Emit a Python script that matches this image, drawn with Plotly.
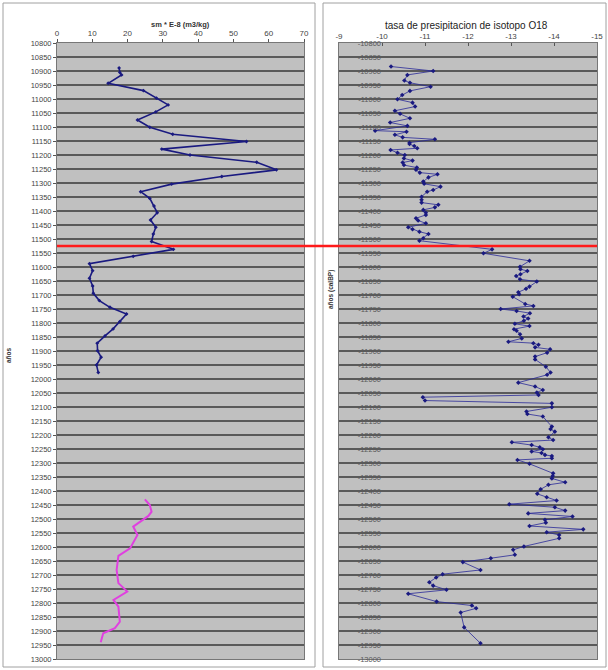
import plotly.graph_objects as go

# ---- data ----
sm_depth = [10889, 10905, 10914, 10944, 10970, 10997, 11021, 11046, 11075, 11101, 11126, 11152,
            11179, 11200, 11226, 11253, 11277, 11304, 11331, 11355, 11382, 11406, 11432, 11458,
            11482, 11509, 11537, 11562, 11588, 11613, 11640, 11668, 11694, 11720, 11744, 11768,
            11795, 11821, 11846, 11872, 11899, 11922, 11950, 11977]
sm_value = [17.6, 17.8, 18.3, 14.5, 24.5, 28.2, 31.5, 28.0, 22.8, 26.3, 32.8, 53.7,
            29.7, 37.7, 56.6, 62.2, 46.7, 32.5, 23.7, 26.3, 27.5, 28.4, 26.5, 28.0,
            27.3, 26.8, 33.0, 21.6, 9.2, 10.1, 9.2, 10.1, 10.3, 12.0, 15.0, 19.7,
            17.8, 15.9, 13.6, 11.4, 11.5, 12.5, 11.2, 11.7]

sm2_depth = [12430, 12450, 12474, 12489, 12527, 12557, 12605, 12632, 12682, 12729, 12759,
             12789, 12813, 12867, 12890, 12908, 12940]
sm2_value = [24.9, 26.3, 26.8, 25.9, 21.6, 22.8, 20.7, 17.4, 16.9, 17.4, 19.9,
             16.0, 17.4, 17.8, 16.4, 13.1, 12.4]

o18_depth = [10884, 10900, 10914, 10934, 10942, 10956, 10971, 10986, 11001, 11013, 11027, 11042,
             11053, 11069, 11084, 11096, 11113, 11117, 11128, 11137, 11144, 11156, 11161, 11168,
             11176, 11182, 11192, 11200, 11212, 11220, 11227, 11236, 11245, 11253, 11263, 11269,
             11280, 11295, 11303, 11313, 11325, 11331, 11349, 11360, 11370, 11378, 11387, 11396,
             11406, 11414, 11426, 11434, 11444, 11458, 11465, 11474, 11482, 11497, 11506,
             11537, 11551, 11578, 11599, 11608, 11614, 11626, 11632, 11644, 11652, 11670, 11678,
             11690, 11697, 11706, 11732, 11739, 11750, 11757, 11765, 11777, 11784, 11792, 11803,
             11811, 11822, 11828, 11840, 11855, 11867, 11872, 11878, 11887, 11894, 11906, 11920,
             11930, 11956, 11977, 11985, 12013, 12027, 12039, 12048, 12057, 12065, 12077, 12087,
             12101, 12116, 12125, 12134, 12170, 12179, 12188, 12208, 12218, 12226, 12236, 12244,
             12251, 12259, 12264, 12271, 12275, 12283, 12289, 12303, 12337, 12346, 12355, 12369,
             12378, 12394, 12410, 12422, 12434, 12447, 12458, 12470, 12480, 12491, 12503, 12513,
             12525, 12537, 12547, 12557, 12569, 12598, 12610, 12628, 12640, 12654, 12682, 12697,
             12709, 12726, 12738, 12753, 12767, 12795, 12809, 12819, 12834, 12887, 12944]
o18_value = [-10.21, -11.19, -10.59, -10.52, -10.65, -11.13, -10.65, -10.47, -10.36, -10.71, -10.77, -10.30,
             -10.42, -10.65, -10.19, -10.59, -9.84, -10.57, -10.30, -10.48, -11.23, -10.64, -10.64, -10.75,
             -10.82, -10.20, -10.36, -10.53, -10.51, -10.71, -10.48, -10.51, -10.81, -10.79, -10.88, -11.29,
             -11.08, -10.96, -10.98, -11.36, -11.19, -11.05, -10.92, -10.92, -10.92, -11.31, -11.23, -10.96,
             -11.02, -11.02, -10.79, -10.84, -11.02, -10.61, -10.71, -10.87, -11.08, -10.96, -10.87,
             -12.56, -12.36, -13.43, -13.21, -13.22, -13.38, -13.22, -13.12, -13.21, -13.60, -13.43, -13.35,
             -13.17, -13.19, -13.04, -13.33, -13.52, -12.76, -13.13, -13.44, -13.29, -13.40, -13.30, -13.09,
             -13.43, -13.07, -13.13, -13.21, -13.25, -12.94, -13.52, -13.64, -13.56, -13.91, -13.84, -13.56,
             -13.56, -13.81, -13.92, -13.84, -13.17, -13.56, -13.74, -13.60, -13.64, -10.95, -11.00, -13.95,
             -13.95, -13.36, -13.38, -13.74, -13.95, -13.92, -14.02, -13.87, -13.98, -13.02, -13.48, -13.67,
             -13.74, -13.48, -13.71, -13.79, -13.95, -13.95, -13.15, -13.43, -13.98, -13.97, -13.95, -14.26,
             -13.87, -13.69, -13.61, -13.83, -14.06, -12.96, -14.02, -14.26, -13.40, -14.43, -13.79, -13.81,
             -13.43, -14.68, -13.83, -14.12, -14.12, -13.30, -13.05, -13.09, -12.53, -11.88, -12.29, -11.41,
             -11.26, -11.10, -11.19, -11.50, -10.61, -11.27, -12.09, -12.19, -11.83, -11.91, -12.29]

boundary_depth = 11525

depth_ticks = list(range(10800, 13001, 50))
left_tick_text = [str(d) for d in depth_ticks]
right_tick_text = ["-" + str(d) for d in depth_ticks]
sm_ticks = [0, 10, 20, 30, 40, 50, 60, 70]
o18_ticks = [-9, -10, -11, -12, -13, -14, -15]
o18_tick_text = [str(v) for v in o18_ticks]

W, H = 608, 670
FONT = "Arial, Liberation Sans, sans-serif"
NAVY = "#1a1a80"


def px(x):
    return x / W


def py(y):
    return 1 - y / H


fig = go.Figure()

fig.add_trace(go.Scatter(x=sm_value, y=sm_depth, mode="lines+markers",
                         line=dict(color=NAVY, width=1.6),
                         marker=dict(color=NAVY, size=3, symbol="diamond"),
                         xaxis="x", yaxis="y", showlegend=False))
fig.add_trace(go.Scatter(x=sm2_value, y=sm2_depth, mode="lines",
                         line=dict(color="#e040e0", width=2),
                         xaxis="x", yaxis="y", showlegend=False))
fig.add_trace(go.Scatter(x=o18_value, y=[-d for d in o18_depth], mode="lines+markers",
                         line=dict(color="#2a2a98", width=0.8),
                         marker=dict(color=NAVY, size=3.5, symbol="diamond"),
                         xaxis="x2", yaxis="y2", showlegend=False))
# empty trace so the label-only axis (y3) gets drawn
fig.add_trace(go.Scatter(x=[None], y=[None], mode="markers", xaxis="x2", yaxis="y3",
                         showlegend=False, hoverinfo="skip"))

x1d = [px(57), px(304)]
x2d = [px(339), px(597)]
yd = [py(659), py(43)]

grid = dict(showgrid=True, gridcolor="#5a5a5a", gridwidth=1.5)

fig.update_layout(
    width=W, height=H,
    margin=dict(l=0, r=0, t=0, b=0, autoexpand=False),
    paper_bgcolor="white",
    plot_bgcolor="#c0c0c0",
    font=dict(family=FONT, size=8, color="#333"),
    xaxis=dict(domain=x1d, range=[0, 70], side="top", tickvals=sm_ticks, automargin=False,
               showgrid=False, zeroline=False, ticks="outside", ticklen=3,
               tickcolor="#555", showline=True, linecolor="#777", mirror=True,
               tickfont=dict(size=8, color="#444"), anchor="y"),
    yaxis=dict(domain=yd, range=[13000, 10800], tickvals=depth_ticks, ticktext=left_tick_text,
               automargin=False,
               zeroline=False, ticks="outside", ticklen=3, tickcolor="#555",
               showline=True, linecolor="#777", mirror=True,
               tickfont=dict(size=7.5, color="#444"), anchor="x", **grid),
    xaxis2=dict(domain=x2d, range=[-9, -15], side="top", tickvals=o18_ticks, ticktext=o18_tick_text,
                automargin=False,
                showgrid=False, zeroline=False, ticks="inside", ticklen=3,
                tickcolor="#555", showline=True, linecolor="#777", mirror=True,
                tickfont=dict(size=8, color="#444"), anchor="y2"),
    yaxis2=dict(domain=yd, range=[-13000, -10800], tickvals=[-d for d in depth_ticks],
                showticklabels=False, automargin=False,
                zeroline=False, ticks="", showline=True, linecolor="#777", mirror=True,
                anchor="x2", **grid),
    yaxis3=dict(overlaying="y2", anchor="free", position=px(381), side="left",
                range=[-13000, -10800], tickvals=[-d for d in depth_ticks], ticktext=right_tick_text,
                showgrid=False, zeroline=False, showline=False, ticks="", automargin=False,
                tickfont=dict(size=7.5, color="#5a5a5a")),
)

# chart frames
fig.add_shape(type="rect", xref="paper", yref="paper", x0=px(3), x1=px(315), y0=py(667), y1=py(3),
              line=dict(color="#a0a0a0", width=1), layer="below")
fig.add_shape(type="rect", xref="paper", yref="paper", x0=px(323), x1=px(606), y0=py(667), y1=py(3),
              line=dict(color="#a0a0a0", width=1), layer="below")

# boundary line
fig.add_shape(type="line", xref="paper", yref="y", x0=px(57), x1=px(597),
              y0=boundary_depth, y1=boundary_depth, line=dict(color="#ff1a1a", width=2.5))

fig.add_annotation(text="<b>sm * E-8 (m3/kg)</b>", xref="paper", yref="paper", xanchor="center",
                   x=px(180), y=py(18), showarrow=False, font=dict(size=7.5, color="#333"))
fig.add_annotation(text="tasa de presipitacion de isotopo O18", xref="paper", yref="paper",
                   xanchor="center", x=px(466), y=py(18), showarrow=False,
                   font=dict(size=10, color="#222"))
fig.add_annotation(text="<b>años</b>", xref="paper", yref="paper", x=px(8), y=py(355),
                   xanchor="center", showarrow=False, textangle=-90, font=dict(size=6.5, color="#333"))
fig.add_annotation(text="<b>años (calBP)</b>", xref="paper", yref="paper", x=px(331), y=py(290),
                   xanchor="center", showarrow=False, textangle=-90, font=dict(size=6.5, color="#333"))

fig.write_html("out.html", config={"displayModeBar": False},
               post_script="document.body.style.margin='0';")
